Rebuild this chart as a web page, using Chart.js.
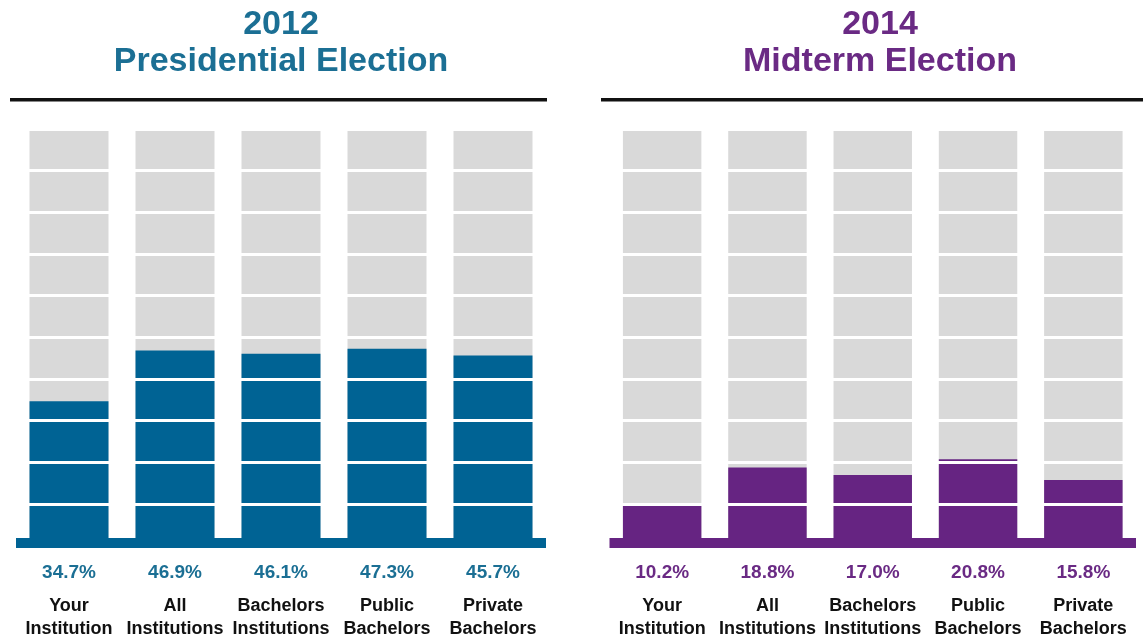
<!DOCTYPE html>
<html>
<head>
<meta charset="utf-8">
<script src="https://cdn.jsdelivr.net/npm/chart.js@4"></script>
<style>
  html, body { margin: 0; padding: 0; background: #fff; overflow: hidden; }
  .panel { position: absolute; top: 0; }
</style>
</head>
<body>
<div class="panel" style="left:0"><canvas id="chart2012" width="571" height="650"></canvas></div>
<div class="panel" style="left:571px"><canvas id="chart2014" width="572" height="650"></canvas></div>
<script>
// categories shared by both panels
const categories = [
    ['Your', 'Institution'],
    ['All', 'Institutions'],
    ['Bachelors', 'Institutions'],
    ['Public', 'Bachelors'],
    ['Private', 'Bachelors']
];
const rates2012 = [34.7, 46.9, 46.1, 47.3, 45.7];
const rates2014 = [10.2, 18.8, 17.0, 20.8, 15.8];
const fullBar = [100, 100, 100, 100, 100];
const yTicks = { min: 0, max: 100, step: 10 };

const FONT = '"Liberation Sans", Arial, sans-serif';
const LABEL_GAP = 48.5;   // space between base and category names
const LABEL_LINE = 23;

// title, black rule under it, value labels and the thick base bar
const panelDecor = {
    id: 'panelDecor',
    afterDraw(chart, args, opts) {
        const ctx = chart.ctx;
        const x = chart.scales.x;
        const y = chart.scales.y;
        const area = chart.chartArea;
        const y0 = y.getPixelForValue(0);
        ctx.save();
        // title (two lines)
        ctx.font = 'bold 34px ' + FONT;
        ctx.fillStyle = opts.labelColor;
        ctx.textAlign = 'center';
        ctx.textBaseline = 'middle';
        opts.title.forEach((line, i) => ctx.fillText(line, opts.titleX, 25 + i * 37));
        // rule
        ctx.fillStyle = '#111';
        ctx.fillRect(opts.ruleLeft, 98, opts.ruleRight - opts.ruleLeft, 3.5);
        // base bar
        ctx.fillStyle = opts.color;
        ctx.fillRect(area.left, y0 - 8, area.right - area.left, 10);
        // value labels
        ctx.font = 'bold 19px ' + FONT;
        ctx.fillStyle = opts.labelColor;
        chart.data.datasets[0].data.forEach((v, i) => {
            ctx.fillText(v.toFixed(1) + '%', x.getPixelForValue(i), y0 + 27);
        });
        ctx.restore();
    }
};

const makeChart = (id, title, values, color, titleColor, padLeft, padRight, titleX, ruleLeft, ruleRight) => {
    const ctx = document.getElementById(id).getContext('2d');
    return new Chart(ctx, {
        type: 'bar',
        data: {
            labels: categories,
            datasets: [{
                data: values,
                backgroundColor: color,
                order: 0
            }, {
                data: fullBar,
                backgroundColor: '#D9D9D9',
                order: 1
            }]
        },
        options: {
            responsive: false,
            animation: false,
            layout: { padding: { left: padLeft, right: padRight, top: 129, bottom: 9.5 } },
            datasets: { bar: { categoryPercentage: 1, barPercentage: 0.745 } },
            scales: {
                x: {
                    stacked: true,
                    grid: { display: false, drawTicks: false },
                    border: { display: false },
                    ticks: {
                        color: '#111',
                        padding: LABEL_GAP,
                        maxRotation: 0,
                        autoSkip: false,
                        font: { family: FONT, size: 18, weight: 'bold', lineHeight: LABEL_LINE / 18 }
                    },
                    afterFit: (scale) => {
                        // labels may hang past the plot; keep the plot edges fixed
                        scale.paddingLeft = 0;
                        scale.paddingRight = 0;
                        scale.height = LABEL_GAP + 2 * LABEL_LINE;
                    }
                },
                y: {
                    stacked: false,
                    min: yTicks.min,
                    max: yTicks.max,
                    ticks: { display: false, stepSize: yTicks.step },
                    border: { display: false },
                    grid: { color: '#ffffff', lineWidth: 3, z: 1, drawTicks: false }
                }
            },
            plugins: {
                legend: { display: false },
                tooltip: { enabled: false },
                title: { display: false },
                panelDecor: {
                    title: title, titleX: titleX,
                    color: color, labelColor: titleColor,
                    ruleLeft: ruleLeft, ruleRight: ruleRight
                }
            }
        },
        plugins: [panelDecor]
    });
};

makeChart('chart2012', ['2012', 'Presidential Election'], rates2012, '#006394', '#1B6F94', 16, 25, 281, 10, 547);
makeChart('chart2014', ['2014', 'Midterm Election'], rates2014, '#662482', '#6A2A84', 38.5, 7, 309, 30, 572);
</script>
</body>
</html>
